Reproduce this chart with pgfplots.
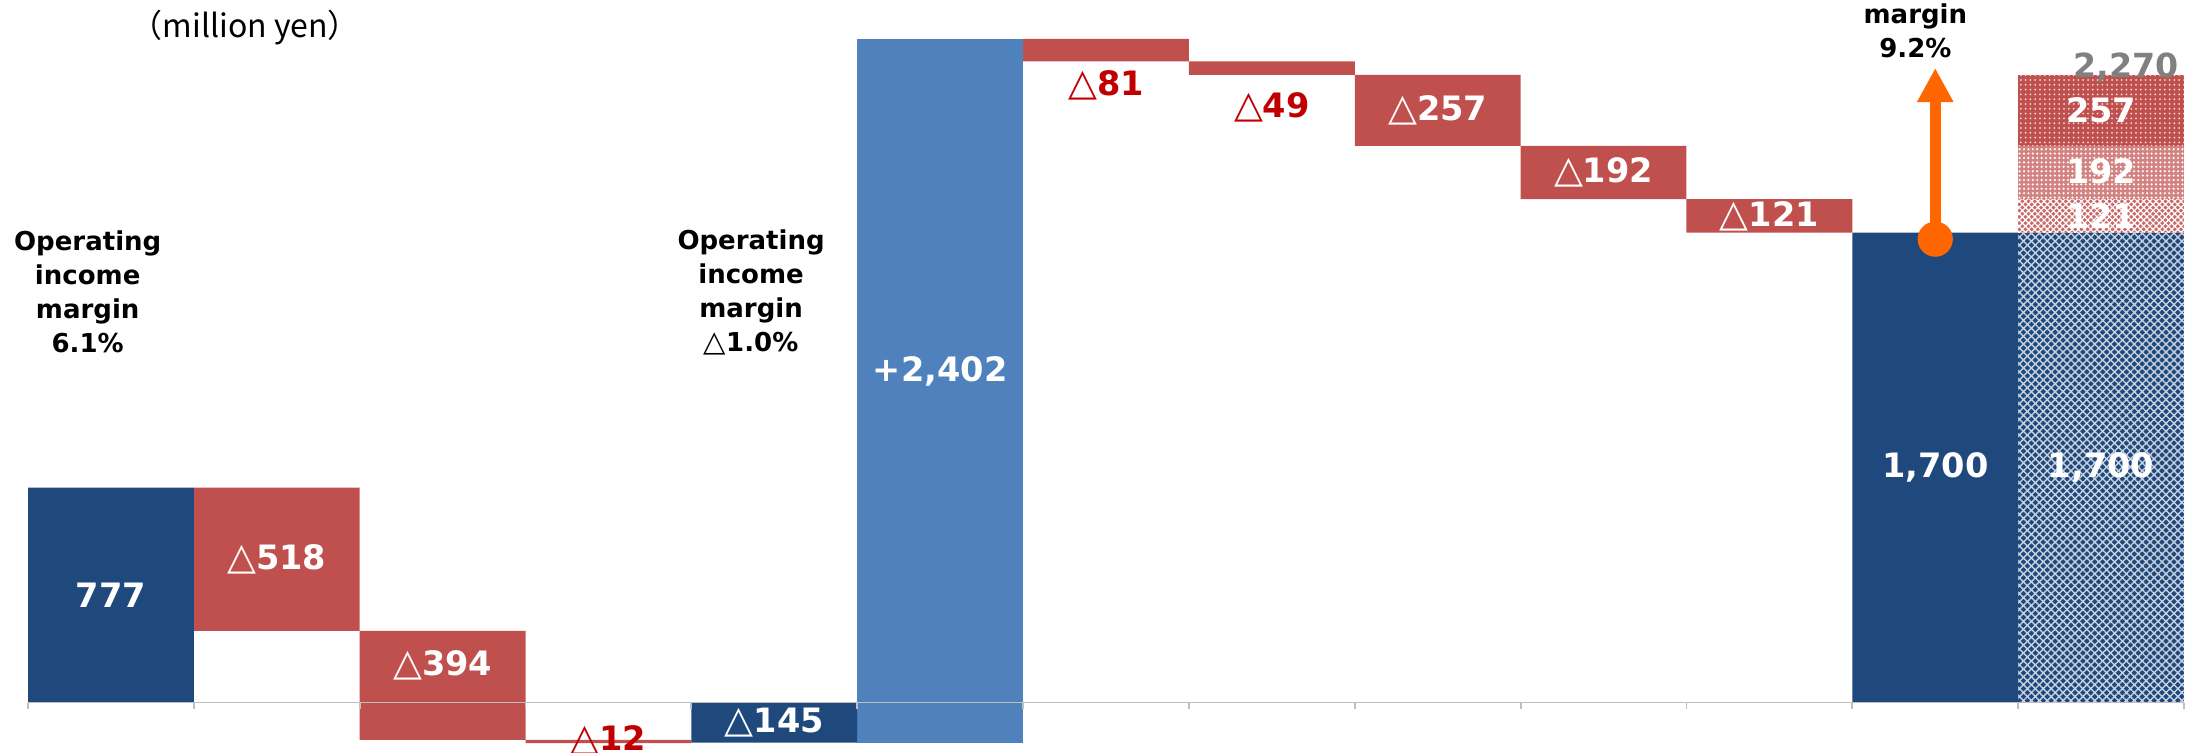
\documentclass[border=0pt]{standalone}
\usepackage{pgfplots}
\pgfplotsset{compat=1.18}
\usepackage{pgfplotstable}
\usepackage{fontspec}
\setmainfont{DejaVu Sans}
\newfontfamily\cjk{Noto Sans CJK JP}
\usetikzlibrary{patterns.meta,arrows.meta}
\definecolor{navy}{HTML}{1F497D}
\definecolor{barred}{HTML}{C0504D}
\definecolor{barblue}{HTML}{4F81BD}
\definecolor{darkred}{HTML}{C00000}
\definecolor{arrorange}{HTML}{FF6600}
\definecolor{axisgray}{HTML}{BFBFBF}
\definecolor{txtgray}{HTML}{808080}
\newcommand\tri{{\mdseries\scalebox{1.12}{△}}}
\pgfplotstableread{
x base navy red blue hnavy hrA hrB hrC
0 0 777 0 0 0 0 0 0
1 777 0 -518 0 0 0 0 0
2 259 0 -394 0 0 0 0 0
3 -135 0 -12 0 0 0 0 0
4 0 -145 0 0 0 0 0 0
5 -145 0 0 2545 0 0 0 0
6 2400 0 -81 0 0 0 0 0
7 2319 0 -49 0 0 0 0 0
8 2270 0 -257 0 0 0 0 0
9 2013 0 -192 0 0 0 0 0
10 1821 0 -121 0 0 0 0 0
11 0 1700 0 0 0 0 0 0
12 0 0 0 0 1700 121 192 257
}\wf
\pgfplotsset{
  base/.style={scale only axis, width=539pt, height=188pt, at={(7pt,0pt)}, anchor=south west,
    xmin=-0.5, xmax=12.5, ymin=-179, ymax=2541, clip=false},
}
\begin{document}
\begin{tikzpicture}
\useasboundingbox (0,0) rectangle (547.5pt,188pt);
\clip (0,0) rectangle (547.5pt,188pt);
\begin{axis}[base, hide axis, ybar stacked, stack negative=on previous, bar width=1]
\node[font=\bfseries\fontsize{8.3}{10}\selectfont, text=txtgray] at (axis cs:12.15,2295) {2,270};
\addplot[draw=none, fill=none] table[x=x, y=base] {\wf};
\addplot[draw=none, fill=navy] table[x=x, y=navy] {\wf};
\addplot[draw=none, fill=barred] table[x=x, y=red] {\wf};
\addplot[draw=none, fill=barblue] table[x=x, y=blue] {\wf};
\addplot[draw=none, fill=navy, postaction={pattern={Hatch[distance=1.4pt, angle=45, line width=0.35pt]}, pattern color=white!75!navy}] table[x=x, y=hnavy] {\wf};
\addplot[draw=none, fill=barred!85!white, postaction={pattern={Hatch[distance=1.1pt, angle=45, line width=0.3pt]}, pattern color=white}] table[x=x, y=hrA] {\wf};
\addplot[draw=none, fill=barred!70!white, postaction={pattern={Dots[distance=1.1pt, radius=0.3pt]}, pattern color=white}] table[x=x, y=hrB] {\wf};
\addplot[draw=none, fill=barred, postaction={pattern={Dots[distance=1.2pt, radius=0.25pt]}, pattern color=white!80!barred}] table[x=x, y=hrC] {\wf};
\end{axis}
\begin{axis}[base, axis x line=middle, axis y line=none,
  x axis line style={-, draw=axisgray, line width=0.45pt},
  xtick={-0.5,0.5,...,12.5}, xticklabel={\mbox{}}, ytick=\empty,
  tick style={draw=axisgray, line width=0.45pt}, major tick length=1.6pt, tick align=outside]
\addplot[draw=arrorange, line width=2.75pt, -{Triangle[length=8.5pt, width=8.5pt]}] coordinates {(11,1676) (11,2295)};
\addplot[only marks, mark=*, mark size=4.2pt, color=arrorange] coordinates {(11,1676)};
\begin{scope}[every node/.style={font=\bfseries\fontsize{8.4}{10}\selectfont, text=white}]
\node at (axis cs:0,389) {777};
\node at (axis cs:1,518) {\tri518};
\node at (axis cs:2,136) {\tri394};
\node[text=darkred] at (axis cs:3,-136) {\tri12};
\node at (axis cs:4,-72) {\tri145};
\node at (axis cs:5,1197) {+2,402};
\node[text=darkred] at (axis cs:6,2233) {\tri81};
\node[text=darkred] at (axis cs:7,2152) {\tri49};
\node at (axis cs:8,2142) {\tri257};
\node at (axis cs:9,1917) {\tri192};
\node at (axis cs:10,1760) {\tri121};
\node at (axis cs:11,850) {1,700};
\node at (axis cs:12,850) {1,700};
\node at (axis cs:12,1760) {121};
\node at (axis cs:12,1920) {192};
\node at (axis cs:12,2143) {257};
\end{scope}
\begin{scope}[every node/.style={font=\bfseries\fontsize{6.5}{8.5}\selectfont, align=center}]
\node at (axis cs:-0.14,1485) {Operating\\income\\margin\\6.1\%};
\node at (axis cs:3.86,1485) {Operating\\income\\margin\\\tri1.0\%};
\node at (axis cs:10.88,2552) {Operating\\income\\margin\\9.2\%};
\end{scope}
\node[font=\cjk\fontsize{8}{9}\selectfont] at (axis cs:0.81,2442) {（million yen）};
\end{axis}
\end{tikzpicture}
\end{document}
